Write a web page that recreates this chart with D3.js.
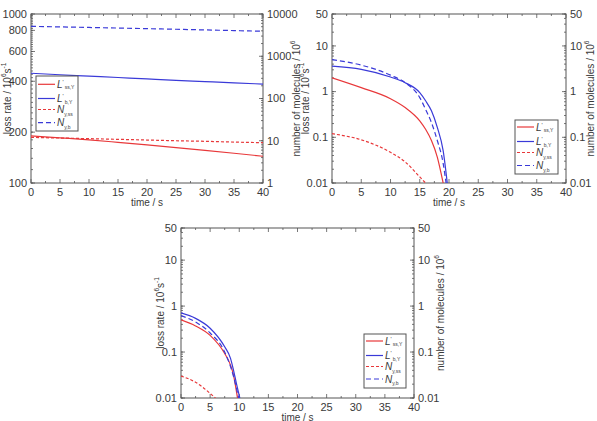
<!DOCTYPE html>
<html lang="en">
<head>
    <meta charset="UTF-8">
    <title>Loss rate and number of molecules vs time</title>
    <script src="https://d3js.org/d3.v7.min.js"></script>
    <style>
        body {
            margin: 0;
            background: #fff;
            font-family: 'Liberation Sans', Arial, sans-serif;
        }
        .frame { fill: none; stroke: #555; stroke-width: 1; }
        .tick line { stroke: #555; stroke-width: 0.8; }
        .lbl { font-size: 11px; fill: #3a3a3a; }
        .title { font-size: 10px; fill: #3a3a3a; }
    </style>
</head>
<body>
<svg id="chart" width="597" height="421"></svg>
<script>
    // ---- data ----
    const xTicks = [0, 5, 10, 15, 20, 25, 30, 35, 40];

    // panel 1 (top left)
    const p1Time = [0, 5, 10, 15, 20, 25, 30, 35, 40];
    const p1LossSS = [190, 185, 180, 174, 168, 162, 156, 150, 144];
    const p1LossB = [446, 437, 429, 421, 413, 405, 398, 391, 385];
    const p1NumSS = [12, 11.6, 11.2, 10.8, 10.4, 10.0, 9.7, 9.3, 9.0];
    const p1NumB = [5100, 4950, 4800, 4650, 4500, 4350, 4200, 4050, 3900];
    const p1LeftTicks = [100, 200, 400, 600, 800, 1000];
    const p1RightTicks = [1, 10, 100, 1000, 10000];

    // panel 2 (top right)
    const p2TimeLossSS = [0, 5, 10, 12.5, 15, 16, 17, 18, 19];
    const p2LossSS = [2.0, 1.22, 0.70, 0.45, 0.23, 0.15, 0.085, 0.037, 0.01];
    const p2TimeLossB = [0, 5, 10, 12.5, 15, 16, 17, 18, 19, 19.7];
    const p2LossB = [3.6, 3.07, 2.09, 1.57, 0.95, 0.63, 0.38, 0.165, 0.051, 0.01];
    const p2TimeNumSS = [0, 5, 10, 12.5, 15, 16];
    const p2NumSS = [0.12, 0.088, 0.047, 0.029, 0.0136, 0.01];
    const p2TimeNumB = [0, 5, 10, 12.5, 15, 16, 17, 18, 19, 19.5];
    const p2NumB = [5.0, 3.8, 2.3, 1.57, 0.74, 0.41, 0.21, 0.085, 0.027, 0.01];

    // panel 3 (bottom)
    const p3TimeLossSS = [0, 2.5, 5, 7.5, 8.5, 9, 9.7];
    const p3LossSS = [0.50, 0.37, 0.23, 0.093, 0.052, 0.032, 0.01];
    const p3TimeLossB = [0, 2.5, 5, 7.5, 8.5, 9, 9.5, 10.1];
    const p3LossB = [0.71, 0.54, 0.33, 0.13, 0.073, 0.041, 0.021, 0.01];
    const p3TimeNumSS = [0, 2.5, 5, 5.9];
    const p3NumSS = [0.030, 0.022, 0.0126, 0.01];
    const p3TimeNumB = [0, 2.5, 5, 7.5, 9, 9.9];
    const p3NumB = [0.62, 0.45, 0.26, 0.10, 0.03, 0.01];

    const smallTicks = [0.01, 0.1, 1, 10, 50];
    const legendNames = [
        {main: "L", sup: "'", sub: "ss,Y"},
        {main: "L", sup: "'", sub: "b,Y"},
        {main: "N", sup: "", sub: "y,ss"},
        {main: "N", sup: "", sub: "y,b"}
    ];

    const RED = "#e8383a";
    const BLUE = "#3a3ad8";

    const svg = d3.select("#chart");

    // minor ticks of a log axis: 1..9 x 10^n inside the domain
    function logMinor(domain) {
        const out = [];
        const lo = Math.floor(Math.log10(domain[0]));
        const hi = Math.ceil(Math.log10(domain[1]));
        for (let e = lo; e <= hi; e++) {
            const base = Math.pow(10, e);
            for (let k = 1; k < 10; k++) {
                const v = +(k * base).toPrecision(6);
                if (v >= domain[0] && v <= domain[1]) out.push(v);
            }
        }
        return out;
    }

    const panels = [
        {
            x0: 31, x1: 263, y0: 14, y1: 183,
            left: [100, 1000], right: [1, 10000],
            leftTicks: p1LeftTicks, rightTicks: p1RightTicks,
            leftMinor: d3.range(100, 1001, 20),
            leftTitleX: 6.5, rightTitleX: 296,
            legend: {x: 36, y: 76, w: 42, h: 55, rows: [8.3, 22.5, 33.5, 46.7]},
            series: [
                {t: p1Time, v: p1LossSS, axis: "left", color: RED, dash: null},
                {t: p1Time, v: p1LossB, axis: "left", color: BLUE, dash: null},
                {t: p1Time, v: p1NumSS, axis: "right", color: RED, dash: "3,2"},
                {t: p1Time, v: p1NumB, axis: "right", color: BLUE, dash: "5,3"}
            ]
        },
        {
            x0: 332, x1: 566, y0: 14, y1: 183,
            left: [0.01, 50], right: [0.01, 50],
            leftTicks: smallTicks, rightTicks: smallTicks,
            leftTitleX: 305, rightTitleX: 590,
            legend: {x: 515, y: 120, w: 43, h: 54, rows: [7, 21.5, 32.5, 45.5]},
            series: [
                {t: p2TimeLossSS, v: p2LossSS, axis: "left", color: RED, dash: null},
                {t: p2TimeLossB, v: p2LossB, axis: "left", color: BLUE, dash: null},
                {t: p2TimeNumSS, v: p2NumSS, axis: "right", color: RED, dash: "3,2"},
                {t: p2TimeNumB, v: p2NumB, axis: "right", color: BLUE, dash: "5,3"}
            ]
        },
        {
            x0: 181, x1: 414, y0: 228, y1: 398,
            left: [0.01, 50], right: [0.01, 50],
            leftTicks: smallTicks, rightTicks: smallTicks,
            leftTitleX: 160, rightTitleX: 440,
            legend: {x: 364, y: 334, w: 42, h: 54, rows: [7, 21.5, 32.5, 45]},
            series: [
                {t: p3TimeLossSS, v: p3LossSS, axis: "left", color: RED, dash: null},
                {t: p3TimeLossB, v: p3LossB, axis: "left", color: BLUE, dash: null},
                {t: p3TimeNumSS, v: p3NumSS, axis: "right", color: RED, dash: "3,2"},
                {t: p3TimeNumB, v: p3NumB, axis: "right", color: BLUE, dash: "5,3"}
            ]
        }
    ];

    // rotated title with superscripts
    function rotTitle(g, x, y, parts) {
        const t = g.append("text")
            .attr("class", "title")
            .attr("transform", `translate(${x},${y}) rotate(-90)`)
            .attr("text-anchor", "middle")
            .attr("dominant-baseline", "central");
        parts.forEach(p => {
            const ts = t.append("tspan").text(p.s);
            if (p.sup) ts.attr("baseline-shift", "super").attr("font-size", "6.5px");
        });
    }

    panels.forEach((p, pi) => {
        const g = svg.append("g");
        const x = d3.scaleLinear().domain([0, 40]).range([p.x0, p.x1]);
        const yL = d3.scaleLog().domain(p.left).range([p.y1, p.y0]);
        const yR = d3.scaleLog().domain(p.right).range([p.y1, p.y0]);

        const clipId = "clip" + pi;
        g.append("clipPath").attr("id", clipId)
            .append("rect")
            .attr("x", p.x0).attr("y", p.y0)
            .attr("width", p.x1 - p.x0).attr("height", p.y1 - p.y0);

        // x ticks (inward, bottom and top)
        const xAll = d3.range(0, 40.1, 2.5);
        const tk = g.append("g").attr("class", "tick");
        xAll.forEach(v => {
            const len = v % 5 === 0 ? 4 : 2;
            tk.append("line").attr("x1", x(v)).attr("x2", x(v))
                .attr("y1", p.y1).attr("y2", p.y1 - len);
            tk.append("line").attr("x1", x(v)).attr("x2", x(v))
                .attr("y1", p.y0).attr("y2", p.y0 + len);
        });
        xTicks.forEach(v => {
            g.append("text").attr("class", "lbl")
                .attr("x", x(v)).attr("y", p.y1 + 13)
                .attr("text-anchor", "middle").text(v);
        });

        // left axis ticks
        const leftMinor = p.leftMinor || logMinor(p.left);
        leftMinor.forEach(v => {
            tk.append("line").attr("x1", p.x0).attr("x2", p.x0 + 2)
                .attr("y1", yL(v)).attr("y2", yL(v));
        });
        p.leftTicks.forEach(v => {
            tk.append("line").attr("x1", p.x0).attr("x2", p.x0 + 4)
                .attr("y1", yL(v)).attr("y2", yL(v));
            g.append("text").attr("class", "lbl")
                .attr("x", p.x0 - 4).attr("y", yL(v))
                .attr("dy", "0.35em")
                .attr("text-anchor", "end").text(v);
        });

        // right axis ticks
        logMinor(p.right).forEach(v => {
            tk.append("line").attr("x1", p.x1).attr("x2", p.x1 - 2)
                .attr("y1", yR(v)).attr("y2", yR(v));
        });
        p.rightTicks.forEach(v => {
            tk.append("line").attr("x1", p.x1).attr("x2", p.x1 - 4)
                .attr("y1", yR(v)).attr("y2", yR(v));
            g.append("text").attr("class", "lbl")
                .attr("x", p.x1 + 4).attr("y", yR(v))
                .attr("dy", "0.35em")
                .attr("text-anchor", "start").text(v);
        });

        // frame
        g.append("rect").attr("class", "frame")
            .attr("x", p.x0).attr("y", p.y0)
            .attr("width", p.x1 - p.x0).attr("height", p.y1 - p.y0);

        // titles
        g.append("text").attr("class", "title")
            .attr("x", (p.x0 + p.x1) / 2).attr("y", p.y1 + 22.5)
            .attr("text-anchor", "middle").text("time / s");
        const yc = (p.y0 + p.y1) / 2;
        rotTitle(g, p.leftTitleX, yc, [
            {s: "loss rate / 10"}, {s: "6", sup: true}, {s: "s"}, {s: "-1", sup: true}
        ]);
        rotTitle(g, p.rightTitleX, yc, [
            {s: "number of molecules / 10"}, {s: "6", sup: true}
        ]);

        // series
        const lines = g.append("g").attr("clip-path", `url(#${clipId})`);
        p.series.forEach(s => {
            const yS = s.axis === "left" ? yL : yR;
            const pts = s.t.map((t, i) => [t, s.v[i]]);
            lines.append("path")
                .attr("d", d3.line()
                    .x(d => x(d[0]))
                    .y(d => yS(d[1]))
                    .curve(d3.curveMonotoneX)(pts))
                .attr("fill", "none")
                .attr("stroke", s.color)
                .attr("stroke-width", 1.2)
                .attr("stroke-dasharray", s.dash);
        });

        // legend
        const L = p.legend;
        const lg = g.append("g");
        lg.append("rect")
            .attr("x", L.x).attr("y", L.y)
            .attr("width", L.w).attr("height", L.h)
            .attr("fill", "#fff").attr("stroke", "#555").attr("stroke-width", 1);
        p.series.forEach((s, i) => {
            const ry = L.y + L.rows[i];
            lg.append("line")
                .attr("x1", L.x + 2).attr("x2", L.x + 19)
                .attr("y1", ry).attr("y2", ry)
                .attr("stroke", s.color).attr("stroke-width", 1.2)
                .attr("stroke-dasharray", s.dash);
            const nm = legendNames[i];
            const t = lg.append("text").attr("class", "title")
                .attr("x", L.x + 21).attr("y", ry + 3.5);
            t.append("tspan").attr("font-style", "italic").text(nm.main);
            if (nm.sup) {
                t.append("tspan").attr("font-size", "6px").attr("dy", -4).text(nm.sup);
                t.append("tspan").attr("font-size", "5px").attr("dy", 5.5).attr("dx", 1).text(nm.sub);
            } else {
                t.append("tspan").attr("font-size", "5px").attr("dy", 2.5).text(nm.sub);
            }
        });
    });
</script>
</body>
</html>
